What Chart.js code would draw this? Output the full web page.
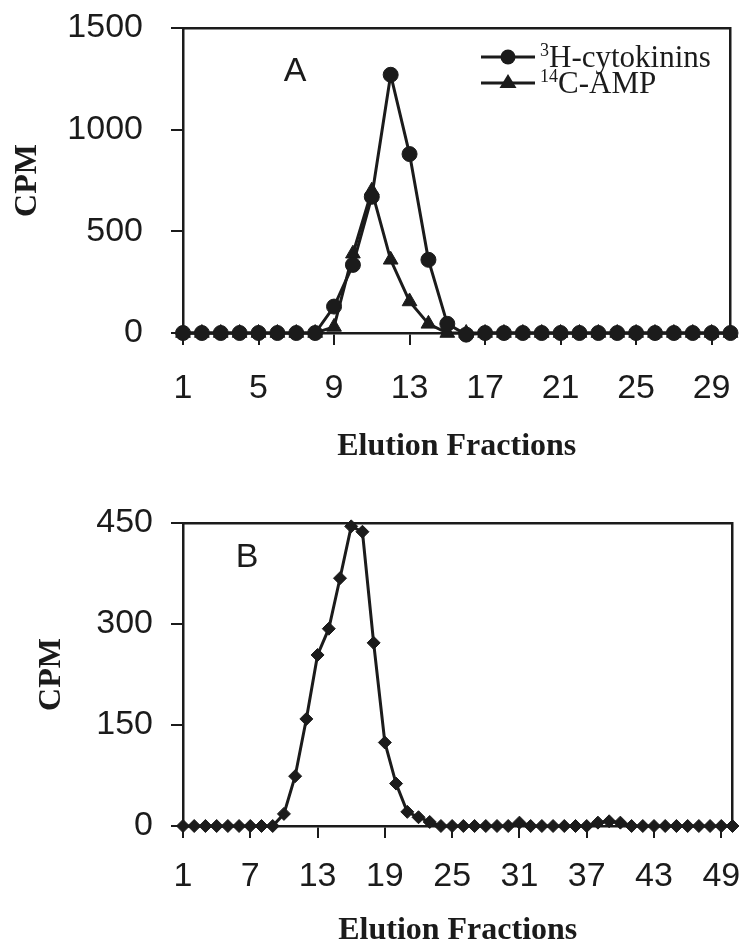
<!DOCTYPE html>
<html>
<head>
<meta charset="utf-8">
<script src="https://cdn.jsdelivr.net/npm/chart.js@4.4.1/dist/chart.umd.min.js"></script>
<style>
  body { margin: 0; background: #fff; }
  canvas { position: absolute; left: 0; }
  #chartA { top: 0; }
  #chartB { top: 470px; }
</style>
</head>
<body>
<canvas id="chartA" width="740" height="470"></canvas>
<canvas id="chartB" width="740" height="475"></canvas>
<script>
// Panel A: two tracers over 30 fractions
const fractionsA = [1, 2, 3, 4, 5, 6, 7, 8, 9, 10, 11, 12, 13, 14, 15,
                    16, 17, 18, 19, 20, 21, 22, 23, 24, 25, 26, 27, 28, 29, 30];
const cytokininsA = [0, 0, 0, 0, 0, 0, 0, 0, 130, 335, 670, 1270, 880, 360, 45,
                     -8, 0, 0, 0, 0, 0, 0, 0, 0, 0, 0, 0, 0, 0, 0];
const ampA = [0, 0, 0, 0, 0, 0, 0, 0, 30, 390, 700, 360, 155, 45, 0,
              0, 0, 0, 0, 0, 0, 0, 0, 0, 0, 0, 0, 0, 0, 0];
const xTicksA = [1, 5, 9, 13, 17, 21, 25, 29];
const yTicksA = [0, 500, 1000, 1500];
const isotopesA = ["3", "14"];
const legendNamesA = ["H-cytokinins", "C-AMP"];

// Panel B: one run over 50 fractions
const fractionsB = [1, 2, 3, 4, 5, 6, 7, 8, 9, 10, 11, 12, 13, 14, 15, 16, 17, 18, 19, 20, 21, 22, 23, 24, 25,
                    26, 27, 28, 29, 30, 31, 32, 33, 34, 35, 36, 37, 38, 39, 40, 41, 42, 43, 44, 45, 46, 47, 48, 49, 50];
const cpmB = [0, 0, 0, 0, 0, 0, 0, 0, 0, 18, 74, 159, 254, 293, 368, 445, 437, 272, 124, 63, 21, 13, 6, 0, 0,
              0, 0, 0, 0, 0, 5, 0, 0, 0, 0, 0, 0, 5, 7, 5, 0, 0, 0, 0, 0, 0, 0, 0, 0, 0];
const xTicksB = [1, 7, 13, 19, 25, 31, 37, 43, 49];
const yTicksB = [0, 150, 300, 450];

const ink = "#1b1b1b";
const sans = "'Liberation Sans', Arial, sans-serif";
const serif = "'Liberation Serif', 'Times New Roman', serif";

function toPoints(xs, ys) {
  return xs.map((x, i) => ({ x: x, y: ys[i] }));
}

function fixedTicks(list) {
  return scale => { scale.ticks = list.map(v => ({ value: v })); };
}

function series(label, xs, ys, style, radius) {
  return {
    label: label,
    data: toPoints(xs, ys),
    borderColor: ink,
    backgroundColor: ink,
    borderWidth: 3,
    pointStyle: style,
    pointRadius: radius,
    pointBackgroundColor: ink,
    pointBorderColor: ink,
    pointBorderWidth: 1,
    tension: 0,
    clip: false
  };
}

function frameAxis(position, min, max) {
  return {
    type: "linear", position: position, min: min, max: max,
    ticks: { display: false },
    grid: { display: false, drawTicks: false },
    border: { display: true, color: ink, width: 2.5 },
    afterFit: s => {
      if (position === "top") s.height = 0; else s.width = 0;
      s.paddingTop = s.paddingBottom = s.paddingLeft = s.paddingRight = 0;
    }
  };
}

// fixed axis size, and no label overflow pushing the plot area around
function fitTo(prop, size) {
  return s => {
    s[prop] = size;
    s.paddingTop = s.paddingBottom = s.paddingLeft = s.paddingRight = 0;
  };
}

// panel letter and the in-plot legend
const panelNotes = {
  id: "panelNotes",
  afterDatasetsDraw(chart, args, opts) {
    const { ctx, chartArea } = chart;
    ctx.save();
    ctx.fillStyle = ink;
    ctx.strokeStyle = ink;
    ctx.textBaseline = "middle";
    ctx.textAlign = "center";
    ctx.font = "34px " + sans;
    ctx.fillText(opts.letter, chartArea.left + opts.letterX, chartArea.top + opts.letterY);

    (opts.names || []).forEach((name, i) => {
      const y = chartArea.top + 29 + i * 26;
      const x0 = 481;
      ctx.lineWidth = 3;
      ctx.beginPath();
      ctx.moveTo(x0, y);
      ctx.lineTo(x0 + 54, y);
      ctx.stroke();
      const mx = x0 + 27;
      ctx.beginPath();
      if (opts.styles[i] === "circle") {
        ctx.arc(mx, y, 7.5, 0, Math.PI * 2);
      } else {
        ctx.moveTo(mx, y - 9);
        ctx.lineTo(mx + 8.5, y + 5);
        ctx.lineTo(mx - 8.5, y + 5);
        ctx.closePath();
      }
      ctx.fill();
      ctx.textAlign = "left";
      ctx.textBaseline = "alphabetic";
      ctx.font = "18px " + serif;
      ctx.fillText(opts.isotopes[i], 540, y - 1);
      const supW = ctx.measureText(opts.isotopes[i]).width;
      ctx.font = "31px " + serif;
      ctx.fillText(name, 540 + supW, y + 10);
    });
    ctx.restore();
  }
};

function makeChart(id, cfg) {
  return new Chart(document.getElementById(id), {
    type: "line",
    data: { datasets: cfg.datasets },
    plugins: [panelNotes],
    options: {
      responsive: false,
      animation: false,
      devicePixelRatio: 1,
      layout: { padding: { top: cfg.top, right: 7, left: 0, bottom: 0 } },
      plugins: {
        legend: { display: false },
        tooltip: { enabled: false },
        panelNotes: cfg.notes
      },
      scales: {
        x: {
          type: "linear", min: cfg.xMin, max: cfg.xMax,
          afterBuildTicks: fixedTicks(cfg.xTicks),
          afterFit: fitTo("height", cfg.xHeight),
          ticks: { autoSkip: false, maxRotation: 0, color: ink, padding: cfg.xPad,
                   font: { family: sans, size: 34 }, callback: v => String(v) },
          grid: { drawOnChartArea: false, drawTicks: true, tickLength: 12, color: ink, lineWidth: 2 },
          border: { display: true, color: ink, width: 2.5 },
          title: {
            display: true, text: "Elution Fractions", color: ink,
            font: { family: serif, size: 32, weight: "bold", lineHeight: 0.9 },
            padding: { top: 0, bottom: cfg.xTitlePad }
          }
        },
        y: {
          type: "linear", min: cfg.yMin, max: cfg.yMax,
          afterBuildTicks: fixedTicks(cfg.yTicks),
          afterFit: fitTo("width", 183),
          ticks: { color: ink, padding: cfg.yPad, font: { family: sans, size: 34 }, callback: v => String(v) },
          grid: { drawOnChartArea: false, drawTicks: true, tickLength: 12, color: ink, lineWidth: 2 },
          border: { display: true, color: ink, width: 2.5 },
          title: {
            display: true, text: "CPM", color: ink,
            font: { family: serif, size: 32, weight: "bold", lineHeight: 0.9 },
            padding: { top: cfg.yTitlePad, bottom: 0 }
          }
        },
        xTop: frameAxis("top", cfg.xMin, cfg.xMax),
        yRight: frameAxis("right", cfg.yMin, cfg.yMax)
      }
    }
  });
}

makeChart("chartA", {
  datasets: [
    series("3H-cytokinins", fractionsA, cytokininsA, "circle", 7.5),
    series("14C-AMP", fractionsA, ampA, "triangle", 8.5)
  ],
  top: 28, xHeight: 137, xPad: 23, xTitlePad: 9, yPad: 28, yTitlePad: 13.5,
  xMin: 1, xMax: 30, xTicks: xTicksA, yMin: 0, yMax: 1500, yTicks: yTicksA,
  notes: { letter: "A", letterX: 112, letterY: 44, names: legendNamesA, isotopes: isotopesA, styles: ["circle", "triangle"] }
});

makeChart("chartB", {
  datasets: [series("CPM", fractionsB, cpmB, "rectRot", 6.5)],
  top: 53, xHeight: 119, xPad: 18, xTitlePad: 0, yPad: 18, yTitlePad: 37.5,
  xMin: 1, xMax: 50, xTicks: xTicksB, yMin: 0, yMax: 450, yTicks: yTicksB,
  notes: { letter: "B", letterX: 64, letterY: 35 }
});
</script>
</body>
</html>
